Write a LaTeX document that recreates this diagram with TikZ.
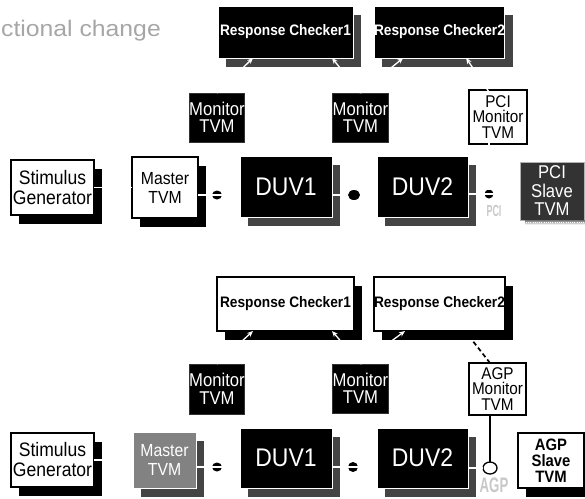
\documentclass[tikz,border=0pt]{standalone}
\usepackage{fontspec}
\setmainfont{Liberation Sans}[FakeStretch=0.9]
\newfontfamily\titlefont{Liberation Sans}[FakeStretch=1.1]
\usetikzlibrary{shadows,calc,arrows.meta,shapes.geometric}

\definecolor{shade}{HTML}{444444}
\definecolor{slavegray}{HTML}{333333}
\definecolor{busgray}{HTML}{C8C8C8}
\definecolor{titlegray}{HTML}{A6A6A6}
\definecolor{midgray}{HTML}{828282}

\tikzset{
  box/.style={rectangle, inner sep=0pt, outer sep=0pt, align=center},
  darkbox/.style={box, fill=black, draw=white, line width=1pt, text=white,
    general shadow={fill=shade, shadow xshift=8pt, shadow yshift=-8.5pt}},
  lightbox/.style={box, fill=white, draw=black, line width=1.2pt, text=black,
    general shadow={fill=black, shadow xshift=8pt, shadow yshift=-8.5pt}},
  graybox/.style={box, fill=midgray, draw=white, line width=1pt, text=white,
    general shadow={fill=shade, shadow xshift=8pt, shadow yshift=-8.5pt}},
  monbox/.style={box, fill=black, draw=black!80, line width=0.6pt, text=white,
    font=\fontsize{18.5}{17.5}\selectfont},
  outlinebox/.style={box, fill=white, draw=black, line width=1.5pt, text=black,
    font=\fontsize{17}{15.5}\selectfont},
  checkfont/.style={font=\bfseries\fontsize{15.2}{15}\selectfont},
  duvfont/.style={font=\fontsize{25.5}{26}\selectfont},
  bus/.style={ellipse, fill=black, inner sep=0pt, outer sep=0pt},
  ring/.style={ellipse, fill=white, draw=black, line width=1.3pt, inner sep=0pt, outer sep=0pt},
  wire/.style={draw=white, line width=1.3pt},
  probe/.style={draw=white, line width=1.3pt, -{Stealth[length=6pt,width=5pt]}},
  buslabel/.style={text=busgray, inner sep=0pt, font=\bfseries\fontsize{16}{16}\selectfont},
}

\begin{document}
\begin{tikzpicture}[x=1pt,y=-1pt]
\useasboundingbox (0,0) rectangle (585,498);

% heading fragment
\node[anchor=base west, inner sep=0pt, text=titlegray,
      font=\titlefont\fontsize{22.5}{22}\selectfont] (title) at (1,36) {ctional change};

% ---------------- PCI configuration ----------------
\node[darkbox, checkfont, minimum width=135pt, minimum height=52pt] (rc1t) at (285.5,32) {Response Checker1};
\node[darkbox, checkfont, minimum width=127pt, minimum height=52pt] (rc2t) at (439.5,32) {Response Checker2};

\node[monbox, minimum width=52pt, minimum height=49pt] (mon1t) at (217,117.5) {Monitor\\TVM};
\node[monbox, minimum width=53pt, minimum height=49pt] (mon2t) at (360.5,117.5) {Monitor\\TVM};
\node[outlinebox, minimum width=58pt, minimum height=54pt] (pcimon) at (498,117) {PCI\\Monitor\\TVM};

\node[lightbox, font=\fontsize{19.5}{20}\selectfont, minimum width=83pt, minimum height=55pt] (stimt) at (52.5,187.5) {Stimulus\\Generator};
\node[lightbox, font=\fontsize{17.5}{19}\selectfont, minimum width=66pt, minimum height=61pt] (mastert) at (165,187.5) {Master\\TVM};
\node[darkbox, duvfont, minimum width=92pt, minimum height=61pt] (duv1t) at (286,186.5) {DUV1};
\node[darkbox, duvfont, minimum width=91pt, minimum height=61pt] (duv2t) at (422.5,186.5) {DUV2};
\node[box, fill=slavegray, draw=black!30, line width=0.6pt, text=white,
      font=\fontsize{18.5}{18.5}\selectfont, minimum width=64pt, minimum height=58pt] (pcislave) at (552,191) {PCI\\Slave\\TVM};
% dotted base under the PCI slave
\fill[shade] ($(pcislave.south west)+(5,0.5)$) rectangle ($(pcislave.south east)+(1,4.5)$);
\draw[white, line width=0.8pt, dash pattern=on 1pt off 1.2pt] ($(pcislave.south west)+(6,2.5)$) -- ($(pcislave.south east)+(1,2.5)$);

\node[bus, minimum width=10pt, minimum height=9pt] (e1t) at (217,195) {};
\coordinate (b2t) at (354,195);
\node[bus, minimum width=9pt, minimum height=9pt] (e3t) at (489,194) {};
\node[buslabel] (pcilbl) at (494,211) {\scalebox{0.62}[1]{PCI}};

% signal wires
\draw[wire] (stimt) -- (mastert);
\draw[wire] (mastert.east |- e1t) -- (duv1t.west |- e1t);
\draw[wire] (duv1t.east |- b2t) -- (duv2t.west |- b2t);
\node[bus, minimum width=12pt, minimum height=10pt] (e2t) at (b2t) {};
\draw[wire] (duv2t.east |- e3t) -- (pcislave.west |- e3t);
\draw[wire] ($(e3t |- pcimon.south)+(0,-2)$) -- (e3t.north);

% monitor outputs to the checkers
\draw[probe] (mon1t.north) -- ($(rc1t.south west)+(35,0)$);
\draw[probe] (mon2t.north) -- ($(rc1t.south west)+(114,0)$);
\draw[probe] (mon2t.north) -- ($(rc2t.south west)+(29,0)$);
\draw[probe] ($(e3t |- pcimon.north)+(0,2)$) -- ($(rc2t.south west)+(92,0)$);

% ---------------- AGP configuration ----------------
\node[lightbox, checkfont, minimum width=137pt, minimum height=54pt] (rc1b) at (285.5,304) {Response Checker1};
\node[lightbox, checkfont, minimum width=131pt, minimum height=54pt] (rc2b) at (439.5,304) {Response Checker2};

\node[monbox, minimum width=52pt, minimum height=50pt] (mon1b) at (217,389) {Monitor\\TVM};
\node[monbox, minimum width=53pt, minimum height=49pt] (mon2b) at (360.5,388.5) {Monitor\\TVM};
\node[outlinebox, line width=1.2pt, minimum width=57pt, minimum height=52pt] (agpmon) at (497.5,389) {AGP\\Monitor\\TVM};

\node[lightbox, font=\fontsize{19.5}{20}\selectfont, minimum width=83pt, minimum height=54pt] (stimb) at (52.5,460) {Stimulus\\Generator};
\node[graybox, font=\fontsize{17.5}{19}\selectfont, minimum width=63pt, minimum height=56pt] (masterb) at (164.5,460) {Master\\TVM};
\node[darkbox, duvfont, minimum width=92pt, minimum height=60pt] (duv1b) at (286,458) {DUV1};
\node[darkbox, duvfont, minimum width=91pt, minimum height=60pt] (duv2b) at (422.5,458) {DUV2};
\node[lightbox, font=\bfseries\fontsize{16.5}{16}\selectfont, minimum width=66pt, minimum height=55pt] (agpslave) at (551,460.5) {AGP\\Slave\\TVM};

\node[bus, minimum width=10pt, minimum height=9pt] (e1b) at (217,467) {};
\node[bus, minimum width=10pt, minimum height=10pt] (e2b) at (353,467) {};
\node[ring, minimum width=14pt, minimum height=12pt] (ringb) at (490,468) {};
\node[buslabel, font=\bfseries\fontsize{21}{21}\selectfont] (agplbl) at (494,485.5) {\scalebox{0.7}[1]{AGP}};

% signal wires
\draw[wire] (stimb) -- (masterb);
\draw[wire] (masterb.east |- e1b) -- (duv1b.west |- e1b);
\draw[wire] (duv1b.east |- e2b) -- (duv2b.west |- e2b);
\draw[wire] (duv2b.east |- ringb) -- (ringb.west);
\draw[black, line width=1.3pt] (ringb |- agpmon.south) -- (ringb.north);

% monitor outputs to the checkers
\draw[probe] (mon1b.north) -- ($(rc1b.south west)+(36,0)$);
\draw[probe] (mon2b.north) -- ($(rc1b.south west)+(115,0)$);
\draw[probe] (mon2b.north) -- ($(rc2b.south west)+(31,0)$);
\draw[black, line width=1.7pt, dash pattern=on 4.5pt off 3pt, -{Stealth[length=5pt,width=4.5pt]}] (ringb |- agpmon.north) -- ($(rc2b.south west)+(91,0)$);
\end{tikzpicture}
\end{document}
